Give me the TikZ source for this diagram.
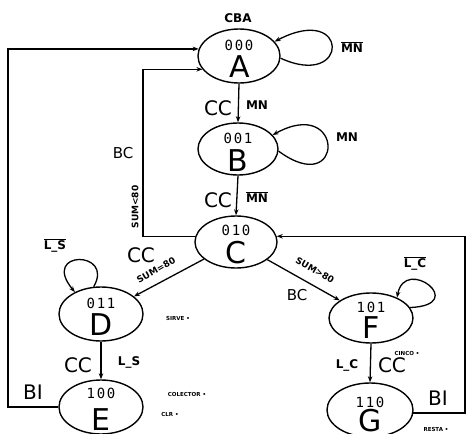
\documentclass[tikz,border=0pt]{standalone}
\usepackage{fontspec}
\setmainfont{DejaVu Sans}
\newfontfamily\codefont[LetterSpace=12]{DejaVu Sans Mono}
\usetikzlibrary{arrows.meta,shapes.geometric}
\tikzset{
  st/.style={draw,ellipse,line width=1.4pt,inner sep=0pt},
  arr/.style={line width=1.3pt,-{Stealth[length=6pt,width=4.5pt]}},
  big/.style={inner sep=0pt,font=\fontsize{30}{30}\selectfont},
  code/.style={inner sep=0pt,font=\fontsize{14}{14}\selectfont\codefont},
  cc/.style={inner sep=0pt,font=\fontsize{20}{20}\selectfont},
  cond/.style={inner sep=0pt,font=\fontsize{15}{15}\selectfont},
  small/.style={inner sep=0pt,font=\fontsize{12}{12}\selectfont\bfseries},
  tiny/.style={inner sep=0pt,font=\fontsize{9}{9}\selectfont\bfseries},
  outtxt/.style={inner sep=0pt,font=\fontsize{5.5}{5.5}\selectfont\bfseries},
}
\begin{document}
\begin{tikzpicture}[x=1pt,y=-1pt]
\useasboundingbox (0,0) rectangle (467,434);
% states
\node[st,minimum width=82pt,minimum height=54pt] (A) at (239,56) {};
\node[st,minimum width=80pt,minimum height=52pt] (B) at (238,149) {};
\node[st,minimum width=82pt,minimum height=52pt] (C) at (236,242) {};
\node[st,minimum width=84pt,minimum height=54pt] (D) at (101,314) {};
\node[st,minimum width=84pt,minimum height=54pt] (E) at (101,407) {};
\node[st,minimum width=84pt,minimum height=50pt] (F) at (371,318) {};
\node[st,minimum width=86pt,minimum height=54pt] (G) at (370,410) {};
% state texts
\node[small] (cba) at (238,18) {CBA};
\node[code] (cA) at (239,45) {000};  \node[big] (lA) at (240,67) {A};
\node[code] (cB) at (238,138) {001}; \node[big] (lB) at (238,161) {B};
\node[code] (cC) at (236,230) {010}; \node[big] (lC) at (236,253) {C};
\node[code] (cD) at (101,303) {011}; \node[big] (lD) at (101,325) {D};
\node[code] (cE) at (101,393) {100}; \node[big,anchor=base] (lE) at (101,430) {E};
\node[code] (cF) at (371,307) {101}; \node[big] (lF) at (371,328) {F};
\node[code] (cG) at (370,402) {110}; \node[big,anchor=base] (lG) at (370,431) {G};
% coordinates for outer paths
\coordinate (xl) at (8,0);
\coordinate (xm) at (143,0);
\coordinate (xr) at (465,0);
% transitions
\draw[arr] (A.south) -- (B.north);
\draw[arr] (B.south) -- (C.north);
\draw[arr] (C) -- (D);
\draw[arr] (C) -- (F);
\draw[arr] (D.south) -- (E.north);
\draw[arr] (F.south) -- (G.north);
\draw[arr] (C.172) -- (C.172 -| xm) |- (A.200);
\draw[arr] (E.west) -- (E.west -| xl) |- (A.170);
\draw[arr] (G.-4) -- (G.-4 -| xr) |- (C.8);
% self loops
\draw[arr] (A.-3) .. controls (350,90) and (350,2) .. (A.22);
\draw[arr] (B.-3) .. controls (345,200) and (345,95) .. (B.22);
\draw[arr] (D.105) .. controls (115,250) and (40,250) .. (D.140);
\draw[arr] (F.15) .. controls (470,305) and (405,255) .. (F.38);
% labels
\node[cc] (t1) at (218,108) {CC};
\node[small] (t2) at (257,105) {MN};
\node[small] (t3) at (352,47) {$\overline{\mbox{MN}}$};
\node[small] (t4) at (347,137) {MN};
\node[cc] (t5) at (218,200) {CC};
\node[small] (t6) at (257,197) {$\overline{\mbox{MN}}$};
\node[cond] (t7) at (123,153) {BC};
\node[tiny,rotate=90] (t8) at (135,207) {SUM<80};
\node[small] (t9) at (55,245) {$\overline{\mbox{L\_S}}$};
\node[cc] (t10) at (141,255) {CC};
\node[tiny,rotate=30] (t11) at (156,270) {SUM=80};
\node[tiny,rotate=-30] (t12) at (315,270) {SUM>80};
\node[cond] (t13) at (297,295) {BC};
\node[small] (t14) at (415,263) {$\overline{\mbox{L\_C}}$};
\node[outtxt] (t15) at (178,318) {SIRVE •};
\node[cc] (t16) at (78,365) {CC};
\node[small] (t17) at (129,362) {L\_S};
\node[cc] (t18) at (33,392) {BI};
\node[outtxt] (t19) at (187,394) {COLECTOR •};
\node[outtxt] (t20) at (170,414) {CLR •};
\node[outtxt] (t21) at (407,353) {CINCO •};
\node[small] (t22) at (347,365) {L\_C};
\node[cc] (t23) at (392,365) {CC};
\node[cc] (t24) at (438,398) {BI};
\node[outtxt] (t25) at (436,429) {RESTA •};
\end{tikzpicture}
\end{document}
